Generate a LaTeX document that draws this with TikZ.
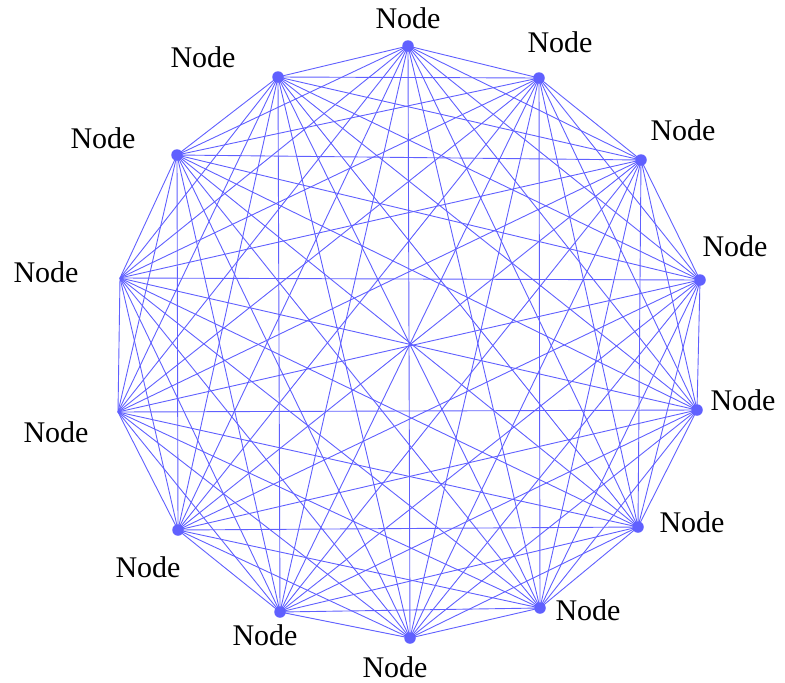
\documentclass[tikz,border=0pt]{standalone}
\usepackage{fontspec}
\setmainfont{Liberation Serif}
\definecolor{edgeblue}{RGB}{96,96,255}
\definecolor{dotblue}{RGB}{96,96,255}
\tikzset{
  edge/.style={draw=edgeblue, line width=0.9pt},
  dot/.style={circle, fill=dotblue, inner sep=0pt, minimum size=11.5pt},
  hidden/.style={circle, inner sep=0pt, minimum size=0pt},
  lbl/.style={font=\fontsize{30}{32}\selectfont, inner sep=0pt}
}
\begin{document}
\begin{tikzpicture}[x=1pt,y=-1pt]
\useasboundingbox (0,0) rectangle (785,683);
% vertices of the complete graph
\node[dot] (n0) at (408,46) {};
\node[dot] (n1) at (539,78) {};
\node[dot] (n2) at (641,160) {};
\node[dot] (n3) at (700,280) {};
\node[dot] (n4) at (697,410) {};
\node[dot] (n5) at (638,527) {};
\node[dot] (n6) at (540,608) {};
\node[dot] (n7) at (410,638) {};
\node[dot] (n8) at (280,612) {};
\node[dot] (n9) at (178,530) {};
\node[hidden] (n10) at (118,412) {};
\node[hidden] (n11) at (120,278) {};
\node[dot] (n12) at (177,155) {};
\node[dot] (n13) at (278,77) {};
% every pair of vertices is joined
\foreach \i in {0,...,12}{
  \pgfmathtruncatemacro\k{\i+1}
  \foreach \j in {\k,...,13}{
    \draw[edge] (n\i.center) -- (n\j.center);
  }
}
% labels
\node[lbl] (l0) at (408,18) {Node};
\node[lbl] (l1) at (560,42) {Node};
\node[lbl] (l2) at (683,130) {Node};
\node[lbl] (l3) at (735,246) {Node};
\node[lbl] (l4) at (743,400) {Node};
\node[lbl] (l5) at (692,522) {Node};
\node[lbl] (l6) at (588,610) {Node};
\node[lbl] (l7) at (395,667) {Node};
\node[lbl] (l8) at (265,635) {Node};
\node[lbl] (l9) at (148,567) {Node};
\node[lbl] (l10) at (56,432) {Node};
\node[lbl] (l11) at (46,272) {Node};
\node[lbl] (l12) at (103,138) {Node};
\node[lbl] (l13) at (203,57) {Node};
\end{tikzpicture}
\end{document}
